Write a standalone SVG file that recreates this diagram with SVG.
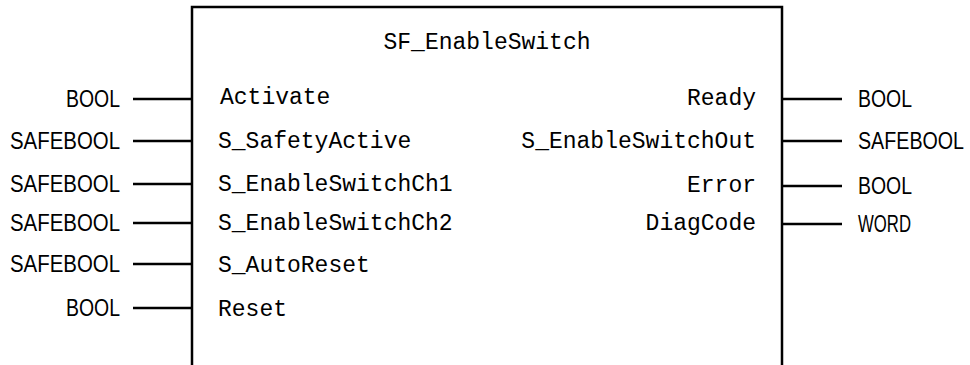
<svg xmlns="http://www.w3.org/2000/svg" width="970" height="365" viewBox="0 0 970 365">
<style>
.port{font-family:"Liberation Mono","DejaVu Sans Mono",monospace;font-size:23px;fill:#000}
.type{font-family:"Liberation Sans",Arial,sans-serif;font-size:24px;fill:#000}
.wire{stroke:#000;stroke-width:2.5;fill:none}
.box{stroke:#000;stroke-width:2.5;fill:#fff}
</style>
<rect width="970" height="365" fill="#fff"/>
<g id="block">
<path class="box" d="M192,367 V7 H782 V367"/>
<text class="port" x="487" y="49" text-anchor="middle">SF_EnableSwitch</text>
<text class="port" x="220" y="104">Activate</text>
<text class="port" x="218" y="148">S_SafetyActive</text>
<text class="port" x="218" y="191">S_EnableSwitchCh1</text>
<text class="port" x="218" y="230">S_EnableSwitchCh2</text>
<text class="port" x="218" y="272">S_AutoReset</text>
<text class="port" x="218" y="316">Reset</text>
<text class="port" x="756" y="105" text-anchor="end">Ready</text>
<text class="port" x="756" y="148" text-anchor="end">S_EnableSwitchOut</text>
<text class="port" x="756" y="192" text-anchor="end">Error</text>
<text class="port" x="756" y="230" text-anchor="end">DiagCode</text>
</g>
<g id="inputs">
<text class="type" x="66" y="107" textLength="54" lengthAdjust="spacingAndGlyphs">BOOL</text>
<text class="type" x="10" y="149" textLength="110" lengthAdjust="spacingAndGlyphs">SAFEBOOL</text>
<text class="type" x="10" y="192" textLength="110" lengthAdjust="spacingAndGlyphs">SAFEBOOL</text>
<text class="type" x="10" y="231" textLength="110" lengthAdjust="spacingAndGlyphs">SAFEBOOL</text>
<text class="type" x="10" y="272" textLength="110" lengthAdjust="spacingAndGlyphs">SAFEBOOL</text>
<text class="type" x="66" y="316" textLength="54" lengthAdjust="spacingAndGlyphs">BOOL</text>
</g>
<g id="outputs">
<text class="type" x="858" y="107" textLength="54" lengthAdjust="spacingAndGlyphs">BOOL</text>
<text class="type" transform="translate(858,149) scale(0.82,1)">SAFEBOOL</text>
<text class="type" x="858" y="194" textLength="54" lengthAdjust="spacingAndGlyphs">BOOL</text>
<text class="type" x="858" y="232" textLength="53" lengthAdjust="spacingAndGlyphs">WORD</text>
</g>
<g id="connectors">
<line class="wire" x1="133" y1="99" x2="192" y2="99"/>
<line class="wire" x1="133" y1="141" x2="192" y2="141"/>
<line class="wire" x1="133" y1="184" x2="192" y2="184"/>
<line class="wire" x1="133" y1="223" x2="192" y2="223"/>
<line class="wire" x1="133" y1="264" x2="192" y2="264"/>
<line class="wire" x1="133" y1="308" x2="192" y2="308"/>
<line class="wire" x1="782" y1="99" x2="842" y2="99"/>
<line class="wire" x1="782" y1="141" x2="842" y2="141"/>
<line class="wire" x1="782" y1="186" x2="842" y2="186"/>
<line class="wire" x1="782" y1="224" x2="842" y2="224"/>
</g>
</svg>
